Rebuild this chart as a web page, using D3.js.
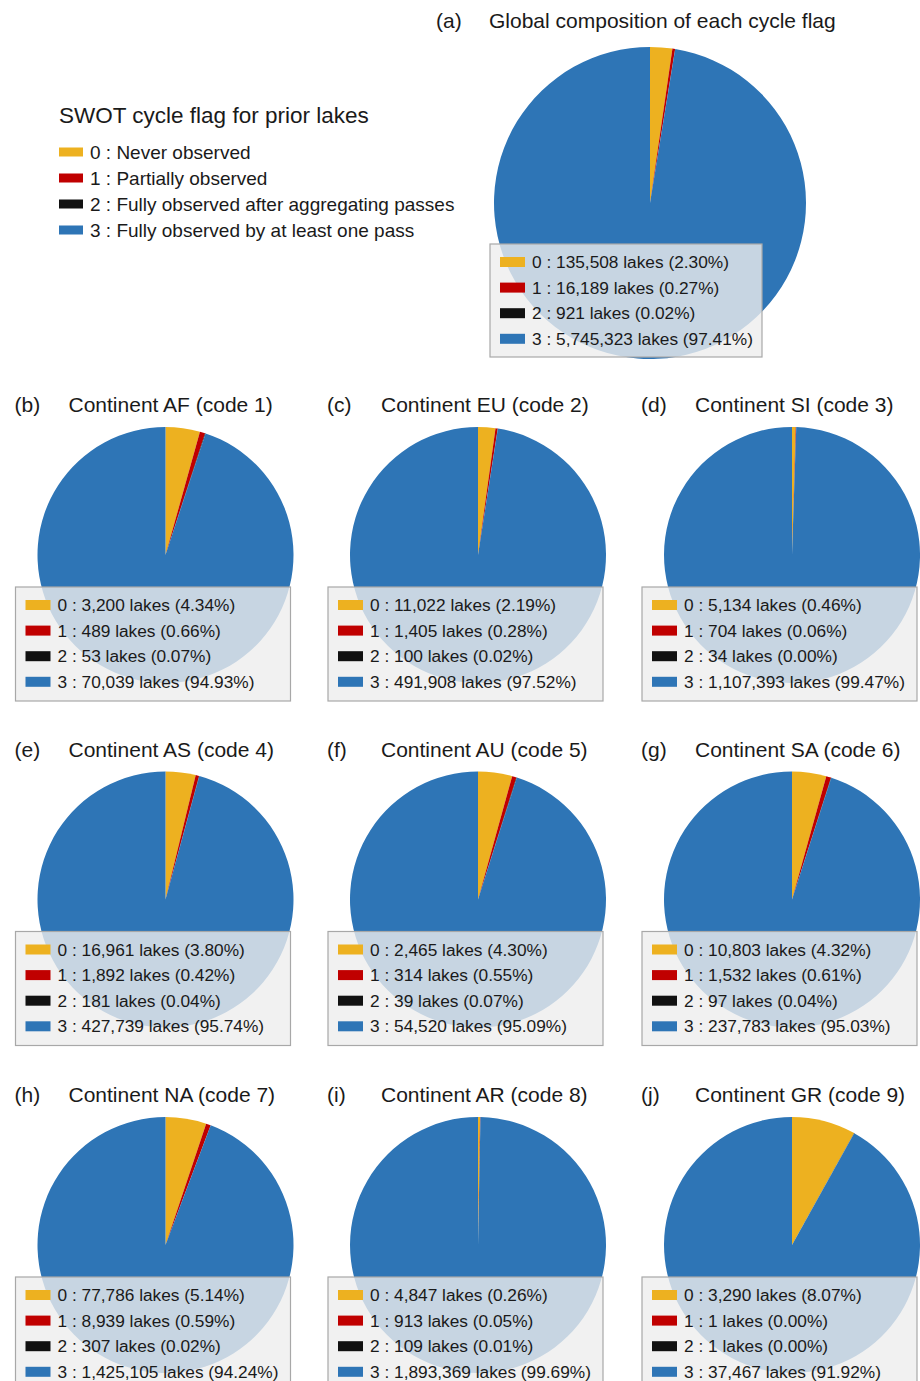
<!DOCTYPE html>
<html>
<head>
<meta charset="utf-8">
<script src="https://cdn.jsdelivr.net/npm/d3@7"></script>
<style>
  body { margin: 0; background: #ffffff; }
  text { font-family: "Liberation Sans", Arial, Helvetica, sans-serif; fill: #1a1a1a; }
</style>
</head>
<body>
<svg id="chart" width="920" height="1381"></svg>
<script>
// SWOT cycle flag categories
const flagCodes = [0, 1, 2, 3];
const flagNames = [
  "Never observed",
  "Partially observed",
  "Fully observed after aggregating passes",
  "Fully observed by at least one pass"
];
const flagColors = ["#EDB120", "#C00000", "#111111", "#2E75B6"];

// Panels: global composition followed by the nine continents
const panelTags = ["(a)", "(b)", "(c)", "(d)", "(e)", "(f)", "(g)", "(h)", "(i)", "(j)"];
const panelTitles = [
  "Global composition of each cycle flag",
  "Continent AF (code 1)", "Continent EU (code 2)", "Continent SI (code 3)",
  "Continent AS (code 4)", "Continent AU (code 5)", "Continent SA (code 6)",
  "Continent NA (code 7)", "Continent AR (code 8)", "Continent GR (code 9)"
];

// Lake counts per cycle flag, one entry per panel
const flag0Counts = [135508, 3200, 11022, 5134, 16961, 2465, 10803, 77786, 4847, 3290];
const flag1Counts = [16189, 489, 1405, 704, 1892, 314, 1532, 8939, 913, 1];
const flag2Counts = [921, 53, 100, 34, 181, 39, 97, 307, 109, 1];
const flag3Counts = [5745323, 70039, 491908, 1107393, 427739, 54520, 237783, 1425105, 1893369, 37467];

// ---- layout ----
const svg = d3.select("#chart");
const fmt = d3.format(",");
const color = d3.scaleOrdinal().domain(flagCodes).range(flagColors);
const pie = d3.pie().sort(null).value(d => d.count);

const colX = [165.5, 478, 792];
const rowY = [555, 899.5, 1245];
const panels = panelTags.map((tag, i) => {
  const counts = [flag0Counts[i], flag1Counts[i], flag2Counts[i], flag3Counts[i]];
  if (i === 0) {
    return { tag, title: panelTitles[i], counts, cx: 650, cy: 203, r: 156,
             tagX: 436, titleX: 489, titleY: 27.5, boxX: 490, boxY: 244, boxW: 272, boxH: 113 };
  }
  const c = (i - 1) % 3, rr = Math.floor((i - 1) / 3);
  const cx = colX[c], cy = rowY[rr];
  return { tag, title: panelTitles[i], counts, cx, cy, r: 128,
           tagX: cx - 151, titleX: cx - 97, titleY: cy - 143,
           boxX: cx - 150, boxY: cy + 32, boxW: 275, boxH: 114 };
});

panels.forEach(p => {
  const g = svg.append("g");
  const total = d3.sum(p.counts);
  const data = flagCodes.map((f, k) => ({ flag: f, count: p.counts[k] }));
  const arc = d3.arc().innerRadius(0).outerRadius(p.r);

  // pie wedges, clockwise from 12 o'clock
  g.append("g")
    .attr("transform", `translate(${p.cx},${p.cy})`)
    .selectAll("path")
    .data(pie(data))
    .join("path")
    .attr("d", arc)
    .attr("fill", d => color(d.data.flag));

  // panel tag and title
  g.append("text").attr("x", p.tagX).attr("y", p.titleY)
    .style("font-size", "21px").text(p.tag);
  g.append("text").attr("x", p.titleX).attr("y", p.titleY)
    .style("font-size", "21px").text(p.title);

  // count legend box
  const lg = g.append("g").attr("transform", `translate(${p.boxX},${p.boxY})`);
  lg.append("rect")
    .attr("width", p.boxW).attr("height", p.boxH)
    .attr("fill", "#eeeeee").attr("fill-opacity", 0.8)
    .attr("stroke", "#a8a8a8").attr("stroke-width", 1.2);
  const rows = lg.selectAll("g.row").data(data).join("g")
    .attr("class", "row")
    .attr("transform", (d, k) => `translate(0,${18 + k * 25.6})`);
  rows.append("rect")
    .attr("x", 10).attr("y", -5).attr("width", 25).attr("height", 10)
    .attr("fill", d => color(d.flag));
  rows.append("text")
    .attr("x", 42).attr("y", 6)
    .style("font-size", "17.3px")
    .text(d => `${d.flag} : ${fmt(d.count)} lakes (${(d.count / total * 100).toFixed(2)}%)`);
});

// cycle flag key
const key = svg.append("g").attr("transform", "translate(59,0)");
key.append("text").attr("x", 0).attr("y", 123)
  .style("font-size", "22.5px").text("SWOT cycle flag for prior lakes");
const keyRows = key.selectAll("g.key").data(flagCodes).join("g")
  .attr("class", "key")
  .attr("transform", (d, k) => `translate(0,${152 + k * 26})`);
keyRows.append("rect")
  .attr("x", 0).attr("y", -4.5).attr("width", 24).attr("height", 9)
  .attr("fill", d => color(d));
keyRows.append("text")
  .attr("x", 31).attr("y", 6.8)
  .style("font-size", "19px")
  .text((d, k) => `${d} : ${flagNames[k]}`);
</script>
</body>
</html>
